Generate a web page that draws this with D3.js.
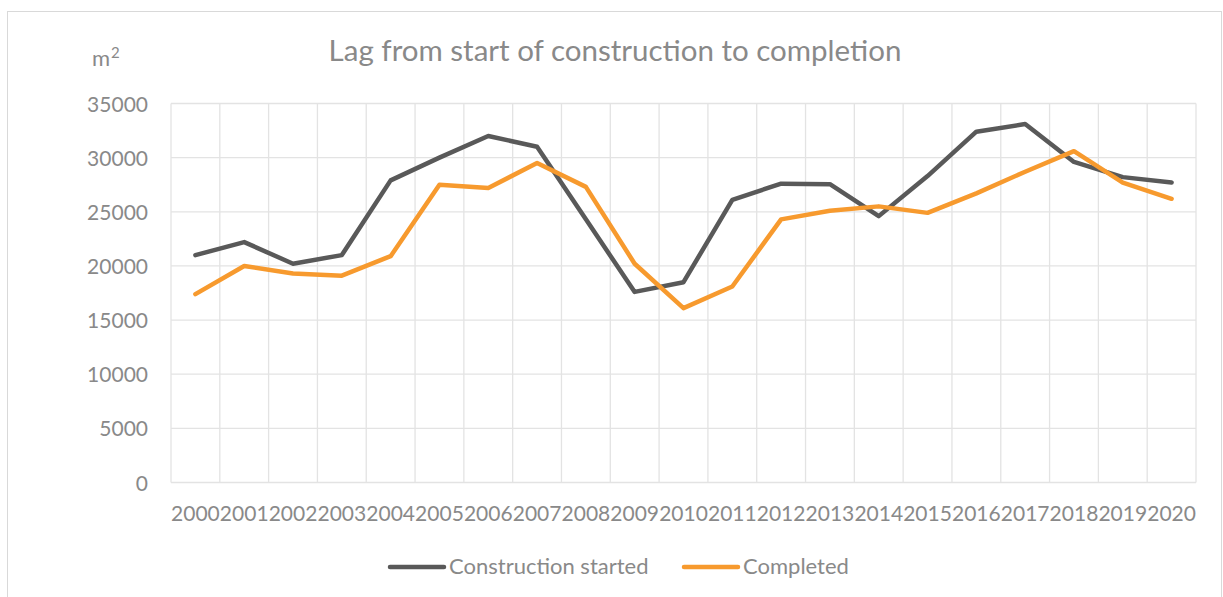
<!DOCTYPE html>
<html>
<head>
<meta charset="utf-8">
<script src="https://cdn.jsdelivr.net/npm/d3@7"></script>
<style>
  html, body { margin: 0; padding: 0; background: #fff; }
  svg { display: block; }
  text { font-family: Lato, "Open Sans", sans-serif; fill: #898989; }
</style>
</head>
<body>
<svg id="chart" width="1223" height="597"></svg>
<script>
const years = ["2000","2001","2002","2003","2004","2005","2006","2007","2008","2009","2010",
               "2011","2012","2013","2014","2015","2016","2017","2018","2019","2020"];
const constructionStarted = [21000, 22200, 20200, 21000, 27900, 30000, 32000, 31000, 24300, 17600, 18500,
                             26100, 27600, 27550, 24600, 28300, 32400, 33100, 29600, 28200, 27700];
const completed = [17400, 20000, 19300, 19100, 20900, 27500, 27200, 29500, 27300, 20200, 16100,
                   18100, 24300, 25100, 25500, 24900, 26700, 28700, 30600, 27700, 26200];
const yTicks = [0, 5000, 10000, 15000, 20000, 25000, 30000, 35000];
const seriesNames = ["Construction started", "Completed"];
const seriesColors = ["#595959", "#F79A2E"];

const svg = d3.select("#chart");
const m = { left: 171, right: 1196, top: 103.5, bottom: 482.5 };

// chart frame
svg.append("rect").attr("x", 7.5).attr("y", 11.5).attr("width", 1214).attr("height", 600)
  .attr("fill", "#fff").attr("stroke", "#d9d9d9").attr("stroke-width", 1);

const x = d3.scaleBand().domain(years).range([m.left, m.right]).paddingInner(0).paddingOuter(0);
const y = d3.scaleLinear().domain([0, 35000]).range([m.bottom, m.top]);

const gridColor = "#e3e3e3";
svg.append("g").selectAll("line").data(yTicks).join("line")
  .attr("x1", m.left).attr("x2", m.right)
  .attr("y1", d => y(d)).attr("y2", d => y(d))
  .attr("stroke", gridColor).attr("stroke-width", 1.3);
const bounds = years.map(d => x(d)).concat([m.right]);
svg.append("g").selectAll("line").data(bounds).join("line")
  .attr("x1", d => d).attr("x2", d => d)
  .attr("y1", m.top).attr("y2", m.bottom)
  .attr("stroke", gridColor).attr("stroke-width", 1.3);

// y axis labels
const yAxis = d3.axisLeft(y).tickValues(yTicks).tickSize(0).tickPadding(0).tickFormat(d3.format("d"));
const gy = svg.append("g").attr("transform", `translate(${148},0)`).call(yAxis);
gy.select(".domain").remove();
gy.selectAll("text").attr("font-size", 21).attr("fill", "#898989").attr("font-family", "Lato")
  .attr("dy", "0.36em");

// x axis labels
const xAxis = d3.axisBottom(x).tickSize(0).tickPadding(0);
const gx = svg.append("g").attr("transform", `translate(0,${m.bottom})`).call(xAxis);
gx.select(".domain").remove();
gx.selectAll("text").attr("font-size", 21).attr("fill", "#898989").attr("font-family", "Lato")
  .attr("dy", null).attr("y", 38);

// lines
const series = [constructionStarted, completed];
const line = d3.line().x((d, i) => x(years[i]) + x.bandwidth() / 2).y(d => y(d));
series.forEach((s, k) => {
  svg.append("path").datum(s).attr("d", line)
    .attr("fill", "none").attr("stroke", seriesColors[k]).attr("stroke-width", 4.5)
    .attr("stroke-linejoin", "round").attr("stroke-linecap", "round");
});

// title
svg.append("text").attr("x", 615).attr("y", 61).attr("text-anchor", "middle")
  .attr("font-size", 29.5).attr("fill", "#8e8e8e").text("Lag from start of construction to completion");

// unit label
const unit = svg.append("text").attr("x", 92).attr("y", 66).attr("font-size", 22);
unit.append("tspan").text("m");
unit.append("tspan").attr("dx", 1).attr("dy", -8).attr("font-size", 15).text("2");

// legend
const legX = [390, 684];
seriesNames.forEach((name, k) => {
  svg.append("line").attr("x1", legX[k]).attr("x2", legX[k] + 54)
    .attr("y1", 567).attr("y2", 567)
    .attr("stroke", seriesColors[k]).attr("stroke-width", 4.5).attr("stroke-linecap", "round");
  svg.append("text").attr("x", legX[k] + 59).attr("y", 574).attr("font-size", 22).text(name);
});
</script>
</body>
</html>
